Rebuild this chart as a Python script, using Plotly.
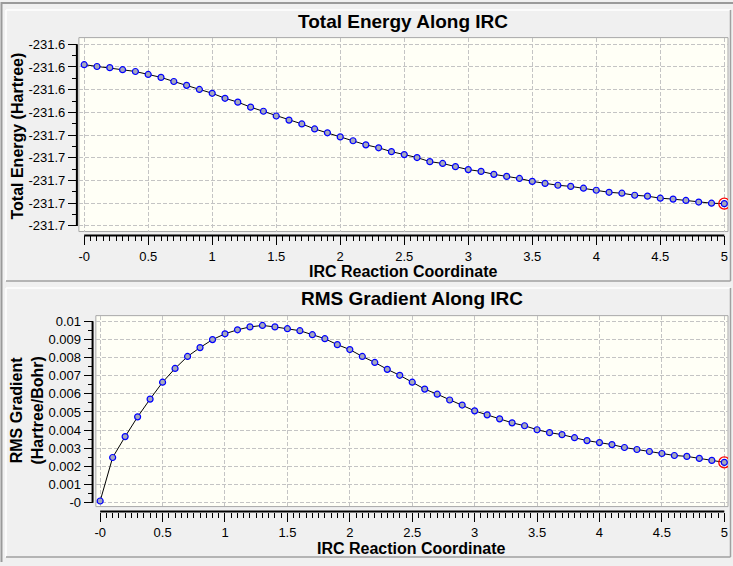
import plotly.graph_objects as go

# ---------------- data ----------------
IRC_X = [round(0.1 * i, 1) for i in range(51)]

TOTAL_ENERGY = [
    -231.6190, -231.6198, -231.6203, -231.6212, -231.6220, -231.6233, -231.6246, -231.6264,
    -231.6281, -231.6299, -231.6316, -231.6338, -231.6355, -231.6377, -231.6395, -231.6416,
    -231.6434, -231.6451, -231.6473, -231.6490, -231.6508, -231.6525, -231.6543, -231.6556,
    -231.6573, -231.6586, -231.6599, -231.6617, -231.6625, -231.6639, -231.6652, -231.6660,
    -231.6673, -231.6682, -231.6691, -231.6704, -231.6713, -231.6721, -231.6726, -231.6734,
    -231.6743, -231.6752, -231.6756, -231.6765, -231.6769, -231.6778, -231.6782, -231.6788,
    -231.6795, -231.6800, -231.6802,
]

RMS_GRADIENT = [
    0.00009, 0.00249, 0.00364, 0.00473, 0.00571, 0.00664, 0.00740, 0.00806,
    0.00855, 0.00899, 0.00931, 0.00953, 0.00969, 0.00977, 0.00969, 0.00959,
    0.00948, 0.00926, 0.00904, 0.00871, 0.00844, 0.00806, 0.00773, 0.00735,
    0.00702, 0.00664, 0.00626, 0.00598, 0.00566, 0.00538, 0.00506, 0.00484,
    0.00462, 0.00440, 0.00424, 0.00402, 0.00386, 0.00375, 0.00358, 0.00342,
    0.00331, 0.00320, 0.00304, 0.00293, 0.00282, 0.00271, 0.00260, 0.00255,
    0.00244, 0.00233, 0.00222,
]

X_TICKS = [0, 0.5, 1, 1.5, 2, 2.5, 3, 3.5, 4, 4.5, 5]
X_TICK_LABELS = ["-0", "0.5", "1", "1.5", "2", "2.5", "3", "3.5", "4", "4.5", "5"]

E_TICKS = [-231.61, -231.62, -231.63, -231.64, -231.65, -231.66, -231.67, -231.68, -231.69]
E_TICK_LABELS = ["-231.6", "-231.6", "-231.6", "-231.6",
                 "-231.7", "-231.7", "-231.7", "-231.7", "-231.7"]

G_TICKS = [0, 0.001, 0.002, 0.003, 0.004, 0.005, 0.006, 0.007, 0.008, 0.009, 0.01]
G_TICK_LABELS = ["-0", "0.001", "0.002", "0.003", "0.004", "0.005",
                 "0.006", "0.007", "0.008", "0.009", "0.01"]

TITLE_TOP = "Total Energy Along IRC"
TITLE_BOTTOM = "RMS Gradient Along IRC"
X_TITLE = "IRC Reaction Coordinate"
Y_TITLE_TOP = "Total Energy (Hartree)"
Y_TITLE_BOTTOM = "RMS Gradient<br>(Hartree/Bohr)"

# ---------------- layout helpers ----------------
W, H = 733, 566


def px(x):
    return x / W


def py(y):
    return 1 - y / H


FONT = "Arial, 'Liberation Sans', sans-serif"
PLOT_BG = "#FFFFF6"
PAPER_BG = "#F0F0F0"
GRID = "#C4C4C4"

fig = go.Figure()

marker_style = dict(size=6, color="#A6A8BC", line=dict(color="#0000FF", width=1.2))

fig.add_trace(go.Scatter(x=IRC_X, y=TOTAL_ENERGY, mode="lines+markers",
                         line=dict(color="black", width=1), marker=marker_style,
                         xaxis="x", yaxis="y", showlegend=False))
fig.add_trace(go.Scatter(x=IRC_X[-1:], y=TOTAL_ENERGY[-1:], mode="markers",
                         marker=dict(size=11, symbol="circle-open", color="#FF0000",
                                     line=dict(width=1.3)),
                         xaxis="x", yaxis="y", showlegend=False))
fig.add_trace(go.Scatter(x=IRC_X, y=RMS_GRADIENT, mode="lines+markers",
                         line=dict(color="black", width=1), marker=marker_style,
                         xaxis="x2", yaxis="y2", showlegend=False))
fig.add_trace(go.Scatter(x=IRC_X[-1:], y=RMS_GRADIENT[-1:], mode="markers",
                         marker=dict(size=11, symbol="circle-open", color="#FF0000",
                                     line=dict(width=1.3)),
                         xaxis="x2", yaxis="y2", showlegend=False))

tickfont = dict(family=FONT, size=13, color="black")

common_x = dict(tickmode="array", tickvals=X_TICKS, ticktext=X_TICK_LABELS,
                ticks="outside", ticklen=9, tickwidth=1, tickcolor="black",
                showgrid=True, gridcolor=GRID, griddash="4px,2px", gridwidth=1,
                zeroline=False, showline=False, tickfont=tickfont,
                minor=dict(ticks="outside", ticklen=5, tickwidth=1, tickcolor="black",
                           dtick=0.05, tick0=0, showgrid=False))

fig.update_layout(
    width=W, height=H,
    margin=dict(l=0, r=0, t=0, b=0),
    paper_bgcolor=PAPER_BG, plot_bgcolor=PLOT_BG,
    xaxis=dict(domain=[px(78), px(728)], range=[(78 - 83.3) / 128.2, (728 - 83.3) / 128.2],
               anchor="free", position=py(236), **common_x),
    yaxis=dict(domain=[py(232), py(36)],
               range=[-231.61 - (232 - 42.7) / 2295, -231.61 + (42.7 - 36) / 2295],
               anchor="free", position=px(76),
               tickmode="array", tickvals=E_TICKS, ticktext=E_TICK_LABELS,
               ticks="outside", ticklen=9, tickwidth=1, tickcolor="black",
               showgrid=True, gridcolor=GRID, griddash="4px,2px", gridwidth=1,
               zeroline=False, showline=False, tickfont=tickfont,
               minor=dict(ticks="outside", ticklen=5, tickwidth=1, tickcolor="black",
                          dtick=0.005, tick0=-231.61, showgrid=False)),
    xaxis2=dict(domain=[px(95), px(728)], range=[(95 - 99.3) / 125, (728 - 99.3) / 125],
                anchor="free", position=py(515), **common_x),
    yaxis2=dict(domain=[py(510), py(317)],
                range=[(506 - 510) / 18330, (506 - 317) / 18330],
                anchor="free", position=px(91.7),
                tickmode="array", tickvals=G_TICKS, ticktext=G_TICK_LABELS,
                ticks="outside", ticklen=9, tickwidth=1, tickcolor="black",
                showgrid=True, gridcolor=GRID, griddash="4px,2px", gridwidth=1,
                zeroline=False, showline=False, tickfont=tickfont,
                minor=dict(ticks="outside", ticklen=5, tickwidth=1, tickcolor="black",
                           dtick=0.0005, tick0=0, showgrid=False)),
)

shapes = []
# window / panel borders
shapes.append(dict(type="line", xref="paper", yref="paper", x0=px(0.5), x1=px(0.5), y0=0, y1=1,
                   line=dict(color="#9A9A9A", width=2), layer="below"))
shapes.append(dict(type="line", xref="paper", yref="paper", x0=0, x1=1, y0=py(1), y1=py(1),
                   line=dict(color="#9A9A9A", width=2), layer="below"))
for top, bottom in [(8, 282), (289, 561)]:
    shapes.append(dict(type="line", xref="paper", yref="paper", x0=px(5), x1=px(730), y0=py(top), y1=py(top),
                       line=dict(color="white", width=1.5), layer="below"))
    shapes.append(dict(type="line", xref="paper", yref="paper", x0=px(5), x1=px(5), y0=py(top), y1=py(bottom),
                       line=dict(color="white", width=1.5), layer="below"))
    shapes.append(dict(type="line", xref="paper", yref="paper", x0=px(5), x1=px(730.5), y0=py(bottom), y1=py(bottom),
                       line=dict(color="#A0A0A0", width=1.5), layer="below"))
    shapes.append(dict(type="line", xref="paper", yref="paper", x0=px(730.5), x1=px(730.5), y0=py(top), y1=py(bottom),
                       line=dict(color="#A0A0A0", width=1.5), layer="below"))

# plot-area frames
for x0, y0, x1, y1 in [(78, 36, 728, 232), (95, 317, 728, 510)]:
    shapes.append(dict(type="rect", xref="paper", yref="paper", x0=px(x0), x1=px(x1), y0=py(y1), y1=py(y0),
                       line=dict(color="#A8A8A8", width=1), fillcolor="rgba(0,0,0,0)", layer="below"))

# axis lines spanning only the tick range
shapes.append(dict(type="line", xref="paper", yref="y", x0=px(76), x1=px(76), y0=E_TICKS[0], y1=E_TICKS[-1],
                   line=dict(color="black", width=2)))
shapes.append(dict(type="line", xref="x", yref="paper", x0=X_TICKS[0], x1=X_TICKS[-1], y0=py(236), y1=py(236),
                   line=dict(color="black", width=2)))
shapes.append(dict(type="line", xref="paper", yref="y2", x0=px(91.7), x1=px(91.7), y0=G_TICKS[0], y1=G_TICKS[-1],
                   line=dict(color="black", width=2)))
shapes.append(dict(type="line", xref="x2", yref="paper", x0=X_TICKS[0], x1=X_TICKS[-1], y0=py(515), y1=py(515),
                   line=dict(color="black", width=2)))
fig.update_layout(shapes=shapes)

bold = dict(family=FONT, color="black")
annotations = [
    dict(text="<b>%s</b>" % TITLE_TOP, x=px(403), y=py(20), font=dict(size=19, **bold)),
    dict(text="<b>%s</b>" % TITLE_BOTTOM, x=px(411.5), y=py(300), font=dict(size=19, **bold)),
    dict(text="<b>%s</b>" % X_TITLE, x=px(403), y=py(272.5), font=dict(size=16, **bold)),
    dict(text="<b>%s</b>" % X_TITLE, x=px(411.5), y=py(552), font=dict(size=16, **bold)),
    dict(text="<b>%s</b>" % Y_TITLE_TOP, x=px(17), y=py(135), textangle=-90, font=dict(size=16, **bold)),
    dict(text="<b>%s</b>" % Y_TITLE_BOTTOM, x=px(26), y=py(413), textangle=-90, font=dict(size=16, **bold)),
]
for a in annotations:
    a.update(xref="paper", yref="paper", showarrow=False, xanchor="center", yanchor="middle")
fig.update_layout(annotations=annotations)

fig.write_html(
    "out.html",
    config={"displayModeBar": False},
    post_script="document.body.style.margin='0';document.body.style.overflow='hidden';",
)
